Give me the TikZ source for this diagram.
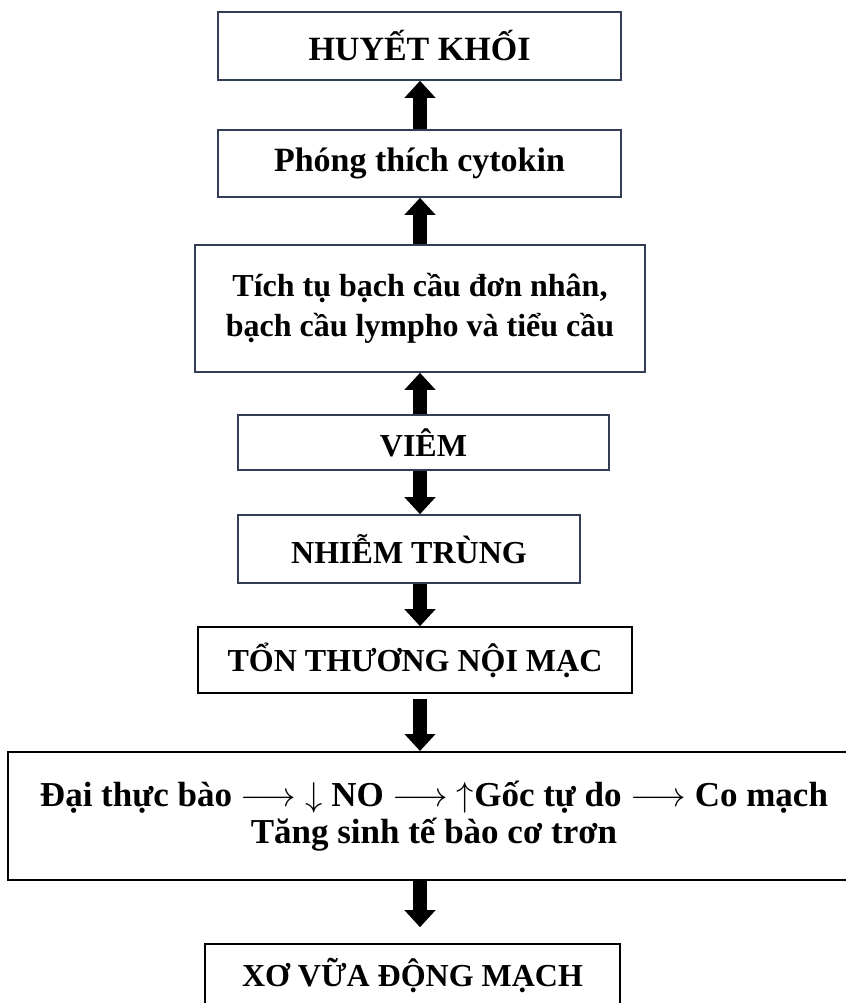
\documentclass[tikz,border=0pt]{standalone}
\usepackage{fontspec}
\setmainfont{Liberation Serif}
\usetikzlibrary{arrows.meta}

\definecolor{framecol}{RGB}{50,62,85}

\tikzset{
  box/.style={rectangle,draw=framecol,line width=0.8pt,align=center,inner sep=0pt,
    font=\bfseries\fontsize{16}{20}\selectfont},
  bigtext/.style={font=\bfseries\fontsize{17}{20}\selectfont},
  fat/.style={line width=7pt,-{Triangle[width=15pt,length=8.5pt]}}
}

\begin{document}
\begin{tikzpicture}[x=0.5pt,y=-0.5pt]
\useasboundingbox (0,0) rectangle (846,1003);

    % The boxes
	\node [box,bigtext,minimum width=201.5pt,minimum height=34pt] at (419.5,46) (hk) {HUYẾT KHỐI};
	\node [box,bigtext,minimum width=201.5pt,minimum height=33.5pt] at (419.5,163.5) (pt) {Phóng thích cytokin};
	\node [box,minimum width=225pt,minimum height=63.5pt] at (420,308.5) (tt) {Tích tụ bạch cầu đơn nhân,\\bạch cầu lympho và tiểu cầu};
	\node [box,minimum width=185.5pt,minimum height=27.5pt] at (423.5,442.5) (vm) {VIÊM};
	\node [box,minimum width=171pt,minimum height=34pt] at (409,549) (nt) {NHIỄM TRÙNG};
	\node [box,draw=black,minimum width=217pt,minimum height=33pt] at (415,660) (tn) {TỔN THƯƠNG NỘI MẠC};
	\node [box,draw=black,line width=1pt,minimum width=426pt,minimum height=64pt,
	       font=\bfseries\fontsize{17.5}{18.5}\selectfont] at (434,816) (dt)
	       {Đại thực bào $\longrightarrow$ $\downarrow$ NO $\longrightarrow$ $\uparrow$Gốc tự do $\longrightarrow$ Co mạch\\Tăng sinh tế bào cơ trơn};
	\node [box,draw=black,minimum width=207.5pt,minimum height=31pt] at (412.5,975) (xv) {XƠ VỮA ĐỘNG MẠCH};

	\coordinate (mid) at (420,0);

	% Arrows
	\draw [fat] (pt.north -| mid) -- (hk.south -| mid);
	\draw [fat] (tt.north -| mid) -- (pt.south -| mid);
	\draw [fat] (vm.north -| mid) -- (tt.south -| mid);
	\draw [fat] (vm.south -| mid) -- (nt.north -| mid);
	\draw [fat] (nt.south -| mid) -- (tn.north -| mid);
	\draw [fat,shorten <=2.5pt] (tn.south -| mid) -- (dt.north -| mid);
	\draw [fat,shorten >=8pt] (dt.south -| mid) -- (xv.north -| mid);

\end{tikzpicture}
\end{document}
